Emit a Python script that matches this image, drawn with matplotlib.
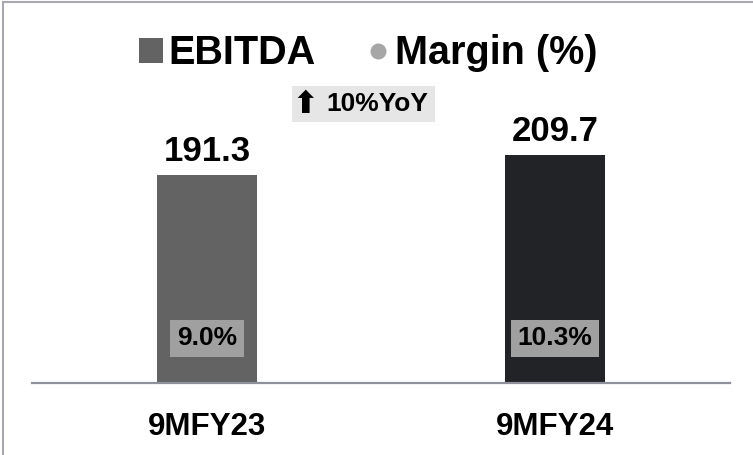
import matplotlib

matplotlib.use("Agg")
import matplotlib.pyplot as plt
from matplotlib.font_manager import FontProperties
from matplotlib.lines import Line2D
from matplotlib.patches import Patch, Rectangle

plt.rcParams["font.family"] = ["Liberation Sans", "DejaVu Sans"]
plt.rcParams["font.weight"] = "bold"

periods = ["9MFY23", "9MFY24"]
ebitda = [191.3, 209.7]
margin = [9.0, 10.3]
yoy_label = "10%YoY"
bar_colors = ["#636363", "#222326"]

fig = plt.figure(figsize=(7.53, 4.55), dpi=100)
ax = fig.add_axes([0.0425, 0.158, 0.927, 0.842])

x = list(range(len(periods)))
ax.bar(x, ebitda, width=0.287, color=bar_colors, zorder=2)
ax.set_xlim(-0.503, 1.503)
ax.set_ylim(0, 352)

for xi, v, m in zip(x, ebitda, margin):
    ax.annotate(f"{v:.1f}", (xi, v), xytext=(0, 17), textcoords="offset points",
                ha="center", va="center", fontsize=25, fontweight="bold")
    ax.annotate(f"{m:.1f}%", (xi, 0), xytext=(0, 32.4), textcoords="offset points",
                ha="center", va="center", fontsize=19, fontweight="bold",
                bbox={"boxstyle": "square,pad=0.25", "facecolor": "#A0A0A0", "edgecolor": "none"})

for s in ["top", "right", "left"]:
    ax.spines[s].set_visible(False)
ax.spines["bottom"].set_color("#8E909C")
ax.spines["bottom"].set_linewidth(1.6)
ax.set_yticks([])
ax.set_xticks(x)
ax.set_xticklabels(periods, fontsize=22.5, fontweight="bold")
ax.tick_params(axis="x", length=0, pad=21)

legend_font = FontProperties(family="Liberation Sans", weight="bold", size=28.5)
handles = [
    Patch(facecolor="#636363", edgecolor="none", label="EBITDA"),
    Line2D([], [], marker="o", linestyle="none", markersize=11.5,
           markerfacecolor="#A6A6A6", markeredgecolor="none", label="Margin (%)"),
]
fig.legend(handles=handles, loc="center", bbox_to_anchor=(0.4894, 0.883), ncol=2,
           frameon=False, prop=legend_font,
           handlelength=0.6, handleheight=0.6, handletextpad=0.12, columnspacing=1.3)

# YoY tag: light grey box with arrow glyph + label
fig.add_artist(Rectangle((0.3878, 0.7319), 0.1899, 0.0791, transform=fig.transFigure,
                         facecolor="#E6E6E6", edgecolor="none"))
fig.text(0.5007, 0.771, yoy_label, ha="center", va="center", fontsize=19,
         fontweight="bold")
fig.text(0.4057, 0.771, "\u2b06", ha="center", va="center", fontsize=22,
         family="DejaVu Sans", fontweight="bold")

# frame edges visible in the source crop
fig.add_artist(Line2D([0.0045, 0.0045], [0, 0.996], transform=fig.transFigure,
                      color="#A8A8B0", linewidth=1.5))
fig.add_artist(Line2D([0.0045, 1], [0.996, 0.996], transform=fig.transFigure,
                      color="#A8A8B0", linewidth=1.5))

fig.savefig("out.png", dpi=100)
